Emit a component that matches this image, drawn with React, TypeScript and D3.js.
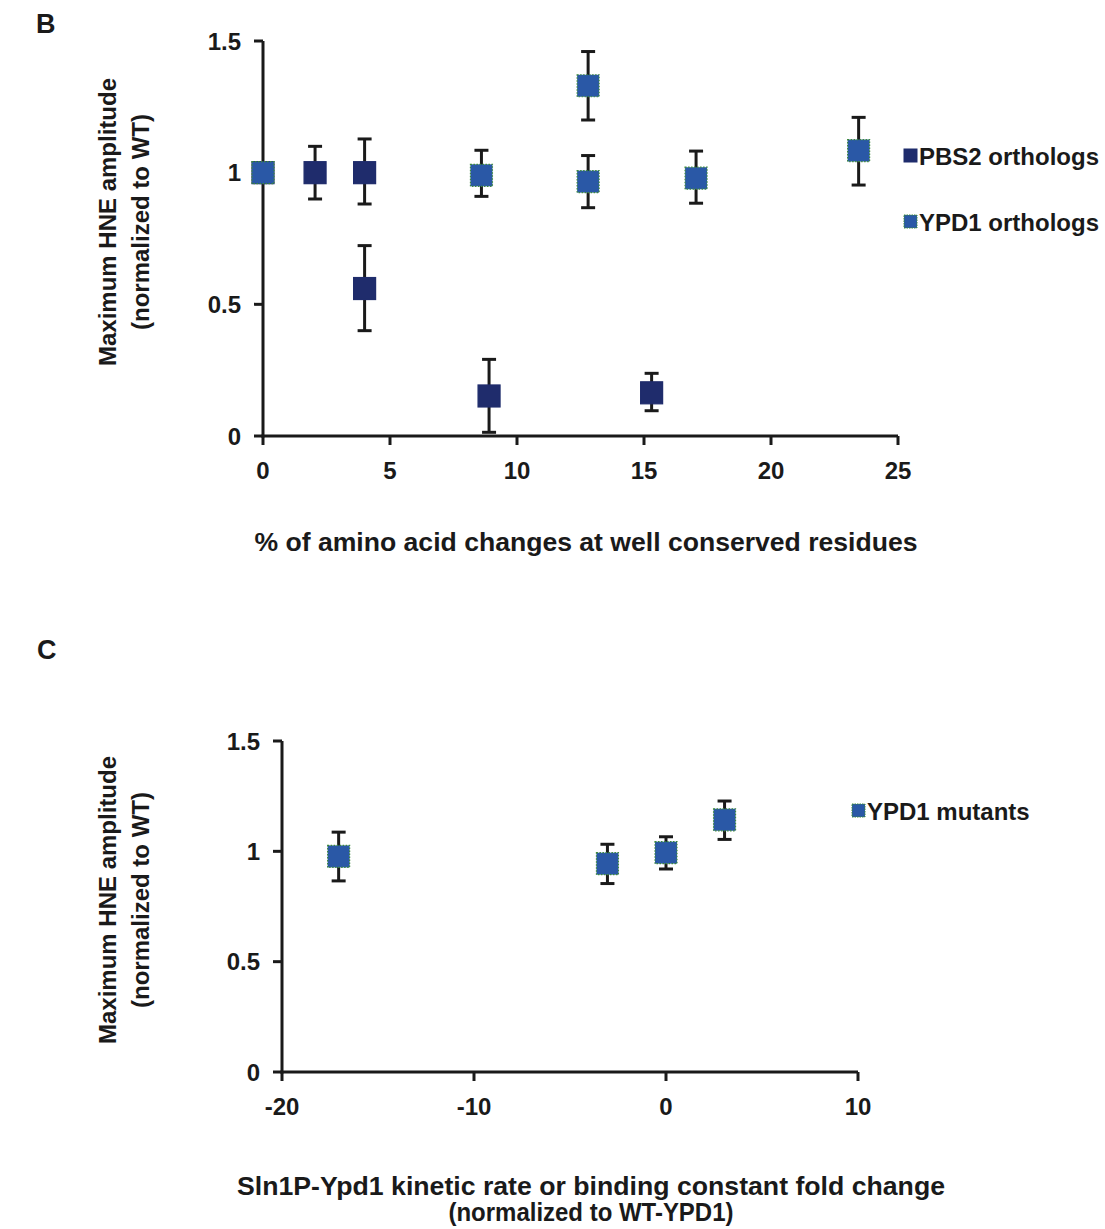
import React from "react";
import * as d3 from "d3";

// Panel B: PBS2 orthologs
const pbs2X = [0, 2.05, 4.0, 4.0, 8.9, 15.3];
const pbs2Y = [1.0, 1.0, 1.0, 0.56, 0.152, 0.164];
const pbs2Hi = [1.0, 1.1, 1.128, 0.723, 0.291, 0.238];
const pbs2Lo = [1.0, 0.9, 0.881, 0.4, 0.014, 0.096];

// Panel B: YPD1 orthologs
const ypd1X = [0, 8.6, 12.8, 12.8, 17.05, 23.45];
const ypd1Y = [1.0, 0.99, 1.33, 0.966, 0.979, 1.084];
const ypd1Hi = [1.0, 1.085, 1.46, 1.065, 1.082, 1.21];
const ypd1Lo = [1.0, 0.91, 1.2, 0.867, 0.884, 0.953];

// Panel C: YPD1 mutants
const mutX = [-17.05, -3.05, 0, 3.05];
const mutY = [0.977, 0.944, 0.994, 1.143];
const mutHi = [1.087, 1.032, 1.066, 1.228];
const mutLo = [0.866, 0.854, 0.92, 1.054];

const yTicks = [0, 0.5, 1, 1.5];
const yTickLabels = ["0", "0.5", "1", "1.5"];
const xTicksB = [0, 5, 10, 15, 20, 25];
const xTicksC = [-20, -10, 0, 10];

const FONT = "'Liberation Sans', Arial, Helvetica, sans-serif";
const NAVY = "#1f2c6c";
const BLUE = "#2a58a6";
const GREEN = "#3d8a3a";
const INK = "#1a1a1a";
const FS = 24;
const TITLE_FS = 25.5;

type Pts = { xs: number[]; ys: number[]; hi: number[]; lo: number[] };

function Panel({
  x,
  y,
  xTicks,
  series,
  legend,
}: {
  x: d3.ScaleLinear<number, number>;
  y: d3.ScaleLinear<number, number>;
  xTicks: number[];
  series: { pts: Pts; fill: string; dotted: boolean }[];
  legend: { label: string; fill: string; dotted: boolean; x: number; y: number }[];
}) {
  const [x0, x1] = x.range();
  const [y0, y1] = y.range();
  const half = 11;
  const cap = 7;
  return (
    <g>
      {/* axes */}
      <line x1={x0} x2={x0} y1={y0 + 1.5} y2={y1} stroke={INK} strokeWidth={3} />
      <line x1={x0 - 1.5} x2={x1} y1={y0} y2={y0} stroke={INK} strokeWidth={3} />
      {yTicks.map((t, i) => (
        <g key={"yt" + i}>
          <line x1={x0 - 9} x2={x0} y1={y(t)} y2={y(t)} stroke={INK} strokeWidth={3} />
          <text
            x={x0 - 22}
            y={y(t)}
            textAnchor="end"
            dominantBaseline="central"
            fontSize={FS}
            fontWeight="bold"
            fontFamily={FONT}
            fill={INK}
          >
            {yTickLabels[i]}
          </text>
        </g>
      ))}
      {xTicks.map((t) => (
        <g key={"xt" + t}>
          <line x1={x(t)} x2={x(t)} y1={y0} y2={y0 + 9} stroke={INK} strokeWidth={3} />
          <text
            x={x(t)}
            y={y0 + 43}
            textAnchor="middle"
            fontSize={FS}
            fontWeight="bold"
            fontFamily={FONT}
            fill={INK}
          >
            {t}
          </text>
        </g>
      ))}
      {/* error bars */}
      {series.map((s, si) =>
        s.pts.xs.map((v, i) =>
          s.pts.hi[i] === s.pts.lo[i] ? null : (
            <g key={`e${si}-${i}`} stroke={INK} strokeWidth={3}>
              <line x1={x(v)} x2={x(v)} y1={y(s.pts.hi[i])} y2={y(s.pts.lo[i])} />
              <line x1={x(v) - cap} x2={x(v) + cap} y1={y(s.pts.hi[i])} y2={y(s.pts.hi[i])} />
              <line x1={x(v) - cap} x2={x(v) + cap} y1={y(s.pts.lo[i])} y2={y(s.pts.lo[i])} />
            </g>
          )
        )
      )}
      {/* markers */}
      {series.map((s, si) =>
        s.pts.xs.map((v, i) => (
          <rect
            key={`m${si}-${i}`}
            x={x(v) - half}
            y={y(s.pts.ys[i]) - half}
            width={half * 2}
            height={half * 2}
            fill={s.fill}
            stroke={s.dotted ? GREEN : s.fill}
            strokeWidth={1.2}
            strokeDasharray={s.dotted ? "1.5 1.5" : undefined}
          />
        ))
      )}
      {/* legend */}
      {legend.map((l, i) => (
        <g key={"lg" + i}>
          <rect
            x={l.x}
            y={l.y - 7}
            width={13}
            height={13}
            fill={l.fill}
            stroke={l.dotted ? GREEN : l.fill}
            strokeWidth={1}
            strokeDasharray={l.dotted ? "1.5 1" : undefined}
          />
          <text
            x={l.x + 15}
            y={l.y + 8.5}
            fontSize={FS}
            fontWeight="bold"
            fontFamily={FONT}
            fill={INK}
          >
            {l.label}
          </text>
        </g>
      ))}
    </g>
  );
}

function YTitle({ cx, cy }: { cx: number; cy: number }) {
  return (
    <text
      transform={`translate(${cx},${cy}) rotate(-90)`}
      textAnchor="middle"
      fontSize={FS}
      fontWeight="bold"
      fontFamily={FONT}
      fill={INK}
    >
      <tspan x={0} dy={0}>Maximum HNE amplitude</tspan>
      <tspan x={0} dy={33}>(normalized to WT)</tspan>
    </text>
  );
}

export default function App() {
  const xB = d3.scaleLinear().domain([0, 25]).range([263, 898]);
  const yB = d3.scaleLinear().domain([0, 1.5]).range([436, 41]);
  const xC = d3.scaleLinear().domain([-20, 10]).range([282, 858]);
  const yC = d3.scaleLinear().domain([0, 1.5]).range([1072, 741]);

  return (
    <svg
      width={1105}
      height={1229}
      style={{ position: "absolute", left: 0, top: 0, background: "#fff" }}
    >
      <rect width={1105} height={1229} fill="#fff" />
      <text x={36} y={33} fontSize={27} fontWeight="bold" fontFamily={FONT} fill={INK}>
        B
      </text>
      <text x={37} y={659} fontSize={27} fontWeight="bold" fontFamily={FONT} fill={INK}>
        C
      </text>

      <YTitle cx={116} cy={222} />
      <Panel
        x={xB}
        y={yB}
        xTicks={xTicksB}
        series={[
          { pts: { xs: pbs2X, ys: pbs2Y, hi: pbs2Hi, lo: pbs2Lo }, fill: NAVY, dotted: false },
          { pts: { xs: ypd1X, ys: ypd1Y, hi: ypd1Hi, lo: ypd1Lo }, fill: BLUE, dotted: true },
        ]}
        legend={[
          { label: "PBS2 orthologs", fill: NAVY, dotted: false, x: 904, y: 156 },
          { label: "YPD1 orthologs", fill: BLUE, dotted: true, x: 904, y: 222 },
        ]}
      />
      <text
        x={586}
        y={551}
        textAnchor="middle"
        fontSize={26.5}
        fontWeight="bold"
        fontFamily={FONT}
        fill={INK}
        textLength={663}
        lengthAdjust="spacingAndGlyphs"
      >
        % of amino acid changes at well conserved residues
      </text>

      <YTitle cx={116} cy={900} />
      <Panel
        x={xC}
        y={yC}
        xTicks={xTicksC}
        series={[{ pts: { xs: mutX, ys: mutY, hi: mutHi, lo: mutLo }, fill: BLUE, dotted: true }]}
        legend={[{ label: "YPD1 mutants", fill: BLUE, dotted: true, x: 852, y: 811 }]}
      />
      <text
        x={591}
        y={1195}
        textAnchor="middle"
        fontSize={TITLE_FS}
        fontWeight="bold"
        fontFamily={FONT}
        fill={INK}
        textLength={708}
        lengthAdjust="spacingAndGlyphs"
      >
        Sln1P-Ypd1 kinetic rate or binding constant fold change
      </text>
      <text
        x={591}
        y={1221}
        textAnchor="middle"
        fontSize={TITLE_FS}
        fontWeight="bold"
        fontFamily={FONT}
        fill={INK}
        textLength={285}
        lengthAdjust="spacingAndGlyphs"
      >
        (normalized to WT-YPD1)
      </text>
    </svg>
  );
}
